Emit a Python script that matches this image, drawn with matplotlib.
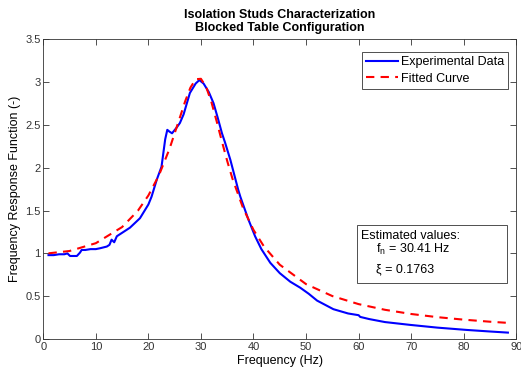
import matplotlib
matplotlib.use('Agg')
import matplotlib.pyplot as plt
from matplotlib import rcParams
from matplotlib.patches import Rectangle

#---- figure parameters ----#
rcParams.update({'font.family': ['Liberation Sans', 'DejaVu Sans'],
                 'font.size': 8,
                 'axes.linewidth': 0.6,
                 'xtick.direction': 'in',
                 'ytick.direction': 'in',
                 'xtick.top': True,
                 'ytick.right': True,
                 'xtick.major.size': 4,
                 'ytick.major.size': 4,
                 'xtick.major.width': 0.6,
                 'ytick.major.width': 0.6,
                 'mathtext.default': 'regular'})

#---- data ----#
freq_exp = [1.0, 2.0, 3.0, 4.0, 4.6, 5.1, 6.4, 7.0, 7.3, 8.0, 9.0, 10.0, 10.8,
            12.1, 12.6, 13.0, 13.5, 14.0, 15.0, 16.5, 18.4, 20.0, 20.6, 21.6,
            22.5, 23.2, 23.6, 24.0, 24.5, 25.3, 26.0, 26.7, 27.9, 29.0, 29.7,
            30.5, 31.5, 32.4, 33.2, 34.0, 34.6, 35.6, 37.1, 37.5, 39.0, 40.3,
            41.5, 43.2, 45.0, 47.0, 48.9, 50.5, 52.1, 55.2, 58.0, 60.0, 60.3,
            62.0, 65.0, 69.8, 75.0, 80.6, 85.0, 88.4]
frf_exp = [0.98, 0.98, 0.99, 0.99, 1.00, 0.97, 0.97, 1.01, 1.04, 1.04, 1.05,
           1.05, 1.06, 1.08, 1.10, 1.16, 1.13, 1.20, 1.24, 1.30, 1.41, 1.57,
           1.66, 1.86, 2.01, 2.33, 2.44, 2.42, 2.40, 2.46, 2.52, 2.62, 2.87,
           2.98, 3.02, 2.98, 2.88, 2.75, 2.58, 2.40, 2.29, 2.09, 1.74, 1.66,
           1.40, 1.20, 1.05, 0.89, 0.77, 0.67, 0.60, 0.53, 0.45, 0.35, 0.30,
           0.28, 0.26, 0.235, 0.20, 0.167, 0.135, 0.108, 0.09, 0.077]

freq_fit = [1, 5, 10, 15, 18, 20, 22, 24, 26, 27, 28, 29, 30, 31, 32, 33, 34,
            35, 36, 38, 40, 42, 45, 50, 55, 60, 65, 70, 75, 80, 85, 88]
frf_fit = [1.001, 1.028, 1.119, 1.307, 1.497, 1.675, 1.909, 2.215, 2.585,
           2.773, 2.932, 3.030, 3.035, 2.939, 2.762, 2.538, 2.303, 2.077,
           1.871, 1.531, 1.274, 1.080, 0.868, 0.642, 0.503, 0.409, 0.343,
           0.294, 0.257, 0.228, 0.204, 0.192]

xticks = [0, 10, 20, 30, 40, 50, 60, 70, 80, 90]
yticks = [0, 0.5, 1, 1.5, 2, 2.5, 3, 3.5]
ylabels = ['0', '0.5', '1', '1.5', '2', '2.5', '3', '3.5']

#---- figure ----#
fig = plt.figure(figsize=(5.21, 3.74), dpi=100)
ax = fig.add_axes([0.083, 0.093, 0.908, 0.803])

ax.plot(freq_exp, frf_exp, color='#0000ff', lw=1.5, label='Experimental Data')
ax.plot(freq_fit, frf_fit, color='#ff0000', lw=1.5, linestyle=(0, (4, 3)),
        label='Fitted Curve')

ax.set_xlim(0, 90)
ax.set_ylim(0, 3.5)
ax.set_xticks(xticks)
ax.set_yticks(yticks)
ax.set_xticklabels([str(t) for t in xticks])
ax.set_yticklabels(ylabels)
ax.tick_params(labelsize=8, colors='#333333', pad=2)
for s in ax.spines.values():
    s.set_color('#333333')

ax.set_xlabel('Frequency (Hz)', fontsize=9, labelpad=2)
ax.set_ylabel('Frequency Response Function (-)', fontsize=9, labelpad=3)
ax.set_title('Isolation Studs Characterization\nBlocked Table Configuration',
             fontsize=9, fontweight='bold', pad=6, linespacing=1.1)

#---- legend ----#
leg = ax.legend(loc='upper right', bbox_to_anchor=(0.983, 0.957), fontsize=9,
                handlelength=2.5, handletextpad=0.25, labelspacing=0.35,
                borderpad=0.35, borderaxespad=0, fancybox=False, framealpha=1)
leg.get_frame().set_edgecolor('#333333')
leg.get_frame().set_linewidth(0.6)

#---- annotation box ----#
ax.add_patch(Rectangle((59.6, 0.657), 28.7, 0.677, fc='white', ec='#333333',
                       lw=0.6, zorder=4))
ax.text(60.4, 1.205, 'Estimated values:', fontsize=9, va='center', zorder=5)
ax.text(63.4, 1.05, 'f$_n$ = 30.41 Hz', fontsize=9, va='center', zorder=5)
ax.text(63.4, 0.817, '\u03be = 0.1763', fontsize=9, va='center', zorder=5)

plt.savefig('out.png', dpi=100)
